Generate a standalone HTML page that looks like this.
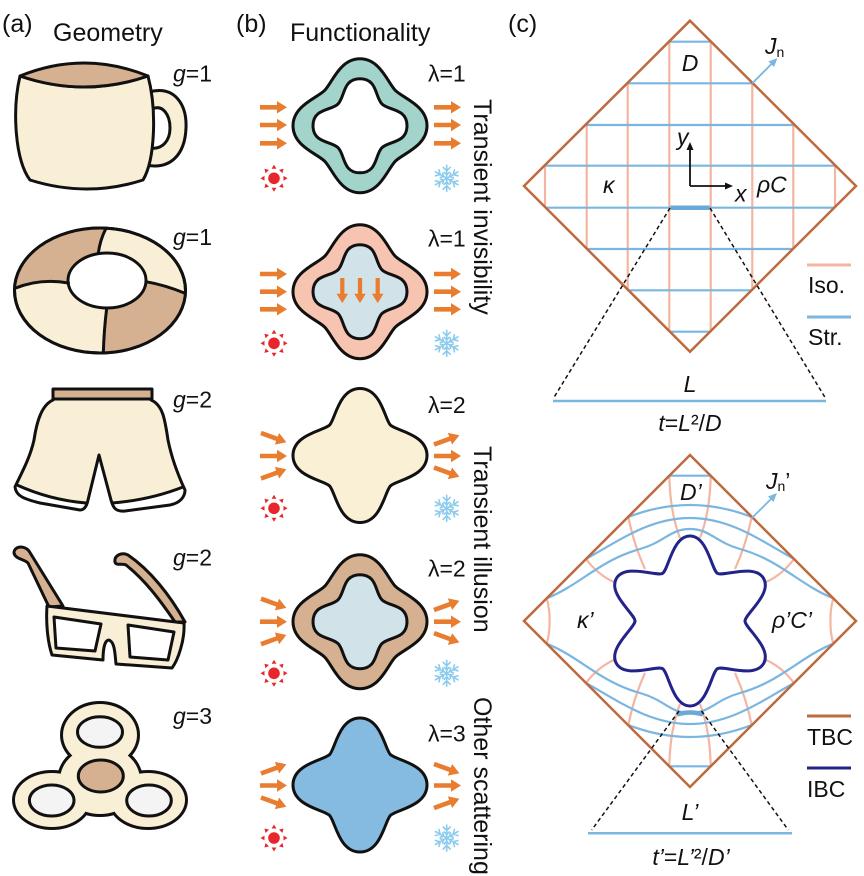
<!DOCTYPE html>
<html><head><meta charset="utf-8"><style>
html,body{margin:0;padding:0;background:#fff;}
svg{display:block;}
text{font-family:"Liberation Sans",Arial,sans-serif;fill:#111;}
</style></head><body>
<svg width="864" height="876" viewBox="0 0 864 876" xmlns="http://www.w3.org/2000/svg">
<defs>
<path id="arr" d="M0,-2.3 L17,-2.3 L17,-6.2 L27,0 L17,6.2 L17,2.3 L0,2.3 Z" fill="#e87d2f"/>
<g id="sun">
 <circle r="5.8" fill="#e8252a"/>
 <g fill="#e8252a">
  <path d="M-2.4,-9.5 L2.4,-9.5 L0,-13.5 Z"/>
  <path d="M-2.4,-9.5 L2.4,-9.5 L0,-13.5 Z" transform="rotate(45)"/>
  <path d="M-2.4,-9.5 L2.4,-9.5 L0,-13.5 Z" transform="rotate(90)"/>
  <path d="M-2.4,-9.5 L2.4,-9.5 L0,-13.5 Z" transform="rotate(135)"/>
  <path d="M-2.4,-9.5 L2.4,-9.5 L0,-13.5 Z" transform="rotate(180)"/>
  <path d="M-2.4,-9.5 L2.4,-9.5 L0,-13.5 Z" transform="rotate(225)"/>
  <path d="M-2.4,-9.5 L2.4,-9.5 L0,-13.5 Z" transform="rotate(270)"/>
  <path d="M-2.4,-9.5 L2.4,-9.5 L0,-13.5 Z" transform="rotate(315)"/>
 </g>
</g>
<g id="arm"><path d="M0,0 L13,0 M7.5,0 L11,-3.5 M7.5,0 L11,3.5 M3.5,0 L6,-2.5 M3.5,0 L6,2.5"/></g>
<g id="snow" stroke="#8ccbee" stroke-width="1.6" fill="none" stroke-linecap="round">
 <use href="#arm" transform="rotate(90)"/>
 <use href="#arm" transform="rotate(30)"/>
 <use href="#arm" transform="rotate(150)"/>
 <use href="#arm" transform="rotate(210)"/>
 <use href="#arm" transform="rotate(270)"/>
 <use href="#arm" transform="rotate(330)"/>
</g>
<path id="shA" d="M67,0 C67,20.2 43.01,27.71 35.36,35.36 C27.71,43.01 20.2,67 0,67 C-20.2,67 -27.71,43.01 -35.36,35.36 C-43.01,27.71 -67,20.2 -67,0 C-67,-20.2 -43.01,-27.71 -35.36,-35.36 C-27.71,-43.01 -20.2,-67 0,-67 C20.2,-67 27.71,-43.01 35.36,-35.36 C43.01,-27.71 67,-20.2 67,0 Z"/>
<path id="shB" d="M47,0 C47,17.56 28.92,14.92 21.92,21.92 C14.92,28.92 17.56,47 0,47 C-17.56,47 -14.92,28.92 -21.92,21.92 C-28.92,14.92 -47,17.56 -47,0 C-47,-17.56 -28.92,-14.92 -21.92,-21.92 C-14.92,-28.92 -17.56,-47 0,-47 C17.56,-47 14.92,-28.92 21.92,-21.92 C28.92,-14.92 47,-17.56 47,0 Z"/>
<path id="shC" d="M67,0 C67,21.2 36,24.82 30.41,30.41 C24.82,36 21.2,67 0,67 C-21.2,67 -24.82,36 -30.41,30.41 C-36,24.82 -67,21.2 -67,0 C-67,-21.2 -36,-24.82 -30.41,-30.41 C-24.82,-36 -21.2,-67 0,-67 C21.2,-67 24.82,-36 30.41,-30.41 C36,-24.82 67,-21.2 67,0 Z"/>
<path id="starpiece" d="M55,0 C55,-6.9 82.41,-27.26 73.61,-42.5 C64.82,-57.74 33.48,-44.18 27.5,-47.63"/>
<clipPath id="cd1"><polygon points="690,20.7 856,186 690,351.7 524,186"/></clipPath>
<g id="halfdeco" fill="none" stroke-width="2.2">
 <g stroke="#f4b6a0">
  <path d="M669.3,475.7 Q670,512 680,538"/>
  <path d="M710.7,475.7 Q710,512 700,538"/>
  <path d="M628.3,517 Q634,545 645,569"/>
  <path d="M751.7,517 Q746,545 735,569"/>
  <path d="M586,559 Q598,575 614,582"/>
  <path d="M794,559 Q782,575 766,582"/>
  <path d="M546.7,598.3 Q550,610 549.5,621"/>
  <path d="M833.3,598.3 Q830,610 830.5,621"/>
 </g>
 <g stroke="#7ab6e0">
  <path d="M669.3,475.7 L710.7,475.7"/>
  <path d="M628.3,517 Q690,493 751.7,517"/>
  <path d="M586,559 C620,540 650,518 690,518 C730,518 760,540 794,559"/>
  <path d="M546.7,598.3 C580,585 600,560 640,549 C665,542 670,529 690,529 C710,529 715,542 740,549 C780,560 800,585 833.3,598.3"/>
 </g>
</g>
</defs>

<!-- ===== Headers ===== -->
<text x="2" y="32" font-size="25">(a)</text>
<text x="53" y="41" font-size="25">Geometry</text>
<text x="236" y="32" font-size="25">(b)</text>
<text x="290" y="41" font-size="25">Functionality</text>
<text x="508" y="32" font-size="25">(c)</text>

<!-- ===== Panel (a) ===== -->
<g stroke="#111" stroke-width="3" stroke-linejoin="round" stroke-linecap="round">
 <!-- cup -->
 <path d="M149,92 C175,85 187,105 186,128 C185,155 170,170 146,165 L150,148 C163,150 170,140 170,128 C170,115 163,104 152,109 Z" fill="#f9efd6"/>
 <path d="M20,76 C12,110 15,160 30,180 Q87,198 143,180 C155,160 157,110 148,76 Q84,98 20,76 Z" fill="#f9efd6"/>
 <path d="M20,76 Q84,50 148,76 Q84,98 20,76 Z" fill="#d5b192"/>
 <!-- ring -->
 <ellipse cx="100" cy="290.5" rx="85.5" ry="62.5" fill="#f9efd6"/>
 <path d="M106,228.3 A85.5,62.5 0 0,0 15,288.3 Q40,278 68.5,283 A39,27.5 0 0,1 98.3,253.3 Q100,240 106,228.3 Z" fill="#d5b192" stroke="none"/>
 <path d="M185,293.3 A85.5,62.5 0 0,1 103.3,353 Q104,330 106.7,308 A39,27.5 0 0,0 146,281.7 Q165,285 185,293.3 Z" fill="#d5b192" stroke="none"/>
 <ellipse cx="100" cy="290.5" rx="85.5" ry="62.5" fill="none"/>
 <ellipse cx="107" cy="280.5" rx="39" ry="27.5" fill="#fff"/>
 <path d="M106,228.3 Q100,240 98.3,253.3 M15,288.3 Q40,278 68.5,283 M146,281.7 Q165,285 185,293.3 M106.7,308 Q104,330 103.3,353" fill="none"/>
 <!-- shorts -->
 <path d="M53,400 C42,405 37,420 34,440 C30,458 22,472 15,487 C16,496 24,499 40,503 L80,510 C85,510 87,505 88,500 L99,455 L111,500 C113,507 115,512 125,511 L170,505 C180,503 185,497 185,490 C178,475 172,460 168,440 C165,420 163,405 151,400 Z" fill="#f9efd6" stroke="none"/>
 <path d="M16,486 Q50,500 85,503 L80,510 L40,503 C24,499 16,496 16,486 Z" fill="#fff" stroke="none"/>
 <path d="M113,503 Q150,500 184,487 C185,497 180,503 170,505 L125,511 C118,511 114,508 113,503 Z" fill="#fff" stroke="none"/>
 <path d="M53,400 C42,405 37,420 34,440 C30,458 22,472 15,487 C16,496 24,499 40,503 L80,510 C85,510 87,505 88,500 L99,455 L111,500 C113,507 115,512 125,511 L170,505 C180,503 185,497 185,490 C178,475 172,460 168,440 C165,420 163,405 151,400" fill="none"/>
 <path d="M17,485 Q50,500 86,503 M112,503 Q150,500 183,487" fill="none"/>
 <rect x="53" y="389" width="99" height="10" fill="#d5b192"/>
 <!-- glasses -->
 <path d="M14,553 C14,546 24,545 29,551 L63,606 L49,607 L28,563 C24,559 15,559 14,553 Z" fill="#d5b192"/>
 <path d="M115,562 C114,555 122,552 128,555 C150,570 170,595 185,622 L175,622 C160,600 145,580 126,565 C122,563 116,566 115,562 Z" fill="#d5b192"/>
 <path d="M47,606 L184,623 C185,640 178,660 172,668 L116,664 C115,655 115,642 109,640 C104,640 103,652 103,660 L52,655 C47,640 46,620 47,606 Z" fill="#f9efd6"/>
 <path d="M54,617 L101,624 L95,651 L56,648 Z" fill="#fff"/>
 <path d="M128,625 L174,632 L168,660 L130,657 Z" fill="#fff"/>
 <!-- spinner -->
 <g stroke-width="6">
  <ellipse cx="100" cy="735" rx="37" ry="31"/>
  <ellipse cx="52" cy="800" rx="37" ry="27"/>
  <ellipse cx="148" cy="800" rx="37" ry="27"/>
  <ellipse cx="100" cy="780" rx="40" ry="34"/>
 </g>
 <g fill="#f9efd6" stroke="none">
  <ellipse cx="100" cy="735" rx="37" ry="31"/>
  <ellipse cx="52" cy="800" rx="37" ry="27"/>
  <ellipse cx="148" cy="800" rx="37" ry="27"/>
  <ellipse cx="100" cy="780" rx="40" ry="34"/>
 </g>
 <ellipse cx="100" cy="732" rx="22.5" ry="15.3" fill="#f4f4f4"/>
 <ellipse cx="51.7" cy="800.5" rx="22.3" ry="15.5" fill="#f4f4f4"/>
 <ellipse cx="149" cy="800.5" rx="22.3" ry="15.5" fill="#f4f4f4"/>
 <ellipse cx="100.8" cy="776" rx="22.5" ry="16" fill="#d5b192"/>
</g>
<g font-size="23">
 <text x="173" y="81.5"><tspan font-style="italic">g</tspan>=1</text>
 <text x="173" y="245"><tspan font-style="italic">g</tspan>=1</text>
 <text x="173" y="407.5"><tspan font-style="italic">g</tspan>=2</text>
 <text x="173" y="565.5"><tspan font-style="italic">g</tspan>=2</text>
 <text x="173" y="724"><tspan font-style="italic">g</tspan>=3</text>
</g>

<!-- ===== Panel (b) ===== -->
<g stroke="#111" stroke-width="3" stroke-linejoin="round">
 <use href="#shA" transform="translate(360,125.8)" fill="#a3d4cb"/>
 <use href="#shB" transform="translate(360,125.8)" fill="#fff"/>
 <use href="#shA" transform="translate(360,291.7)" fill="#f6c4b0"/>
 <use href="#shB" transform="translate(360,291.7)" fill="#d2e2e9"/>
 <use href="#shC" transform="translate(360,455.5)" fill="#faf0d5"/>
 <use href="#shA" transform="translate(360,621.7)" fill="#d5b191"/>
 <use href="#shB" transform="translate(360,621.7)" fill="#d2e2e9"/>
 <use href="#shC" transform="translate(360,785)" fill="#86bbe1"/>
</g>
<!-- arrows -->
<g>
 <use href="#arr" transform="translate(260,107.3)"/>
 <use href="#arr" transform="translate(260,125)"/>
 <use href="#arr" transform="translate(260,143.3)"/>
 <use href="#arr" transform="translate(434,107.3)"/>
 <use href="#arr" transform="translate(434,125)"/>
 <use href="#arr" transform="translate(434,143.3)"/>

 <use href="#arr" transform="translate(260,274)"/>
 <use href="#arr" transform="translate(260,291.7)"/>
 <use href="#arr" transform="translate(260,309.3)"/>
 <use href="#arr" transform="translate(434,274)"/>
 <use href="#arr" transform="translate(434,291.7)"/>
 <use href="#arr" transform="translate(434,309.3)"/>
 <use href="#arr" transform="translate(342.3,278) rotate(90) scale(0.93)"/>
 <use href="#arr" transform="translate(360,278) rotate(90) scale(0.93)"/>
 <use href="#arr" transform="translate(377.7,278) rotate(90) scale(0.93)"/>

 <use href="#arr" transform="translate(261,433) rotate(20)"/>
 <use href="#arr" transform="translate(260,456)"/>
 <use href="#arr" transform="translate(261,478.5) rotate(-20)"/>
 <use href="#arr" transform="translate(434,444.5) rotate(-20)"/>
 <use href="#arr" transform="translate(434,456)"/>
 <use href="#arr" transform="translate(434,467.5) rotate(20)"/>

 <use href="#arr" transform="translate(261,598.7) rotate(20)"/>
 <use href="#arr" transform="translate(260,621.7)"/>
 <use href="#arr" transform="translate(261,644.2) rotate(-20)"/>
 <use href="#arr" transform="translate(434,610) rotate(-20)"/>
 <use href="#arr" transform="translate(434,621.7)"/>
 <use href="#arr" transform="translate(434,633.2) rotate(20)"/>

 <use href="#arr" transform="translate(261,773.5) rotate(-20)"/>
 <use href="#arr" transform="translate(260,785.5)"/>
 <use href="#arr" transform="translate(261,797.5) rotate(20)"/>
 <use href="#arr" transform="translate(434,764) rotate(20)"/>
 <use href="#arr" transform="translate(434,785.5)"/>
 <use href="#arr" transform="translate(434,808) rotate(-20)"/>
</g>
<use href="#sun" transform="translate(274,178.3)"/>
<use href="#sun" transform="translate(274,343.3)"/>
<use href="#sun" transform="translate(274,508.3)"/>
<use href="#sun" transform="translate(274,673.3)"/>
<use href="#sun" transform="translate(274,838)"/>
<use href="#snow" transform="translate(446.7,178.3)"/>
<use href="#snow" transform="translate(446.7,343.3)"/>
<use href="#snow" transform="translate(446.7,508.3)"/>
<use href="#snow" transform="translate(446.7,673.3)"/>
<use href="#snow" transform="translate(446.7,838)"/>
<g font-size="23">
 <text x="428" y="81.5">λ=1</text>
 <text x="428" y="246.5">λ=1</text>
 <text x="428" y="413">λ=2</text>
 <text x="428" y="576.5">λ=2</text>
 <text x="428" y="741.5">λ=3</text>
</g>
<g font-size="25">
 <text transform="translate(474,99) rotate(90)">Transient invisibility</text>
 <text transform="translate(474,446) rotate(90)">Transient illusion</text>
 <text transform="translate(474,697) rotate(90)">Other scattering</text>
</g>

<!-- ===== Panel (c) top ===== -->
<g clip-path="url(#cd1)" fill="none" stroke-width="2.2">
 <g stroke="#f4b6a0">
  <path d="M545,0V400 M586.7,0V400 M627.7,0V400 M669.3,0V400 M710.7,0V400 M752.3,0V400 M793.3,0V400 M835,0V400"/>
 </g>
 <g stroke="#7ab6e0">
  <path d="M500,41.7H880 M500,83.3H880 M500,125H880 M500,165.7H880 M500,207.7H880 M500,249H880 M500,290.3H880 M500,331.7H880"/>
 </g>
</g>
<polygon points="690,20.7 856,186 690,351.7 524,186" fill="none" stroke="#bd6a3f" stroke-width="2.5"/>
<path d="M670.5,207.7 H709.5" stroke="#6aa9d6" stroke-width="4.5"/>
<path d="M670,208 L553,399 M710,208 L826,399" stroke="#111" stroke-width="1.5" stroke-dasharray="4,3" fill="none"/>
<path d="M553,401 H826" stroke="#7ab6e0" stroke-width="2.5"/>
<!-- axes -->
<path d="M690,186 V148 M690,186 H727" stroke="#111" stroke-width="1.8" fill="none"/>
<path d="M690,142 L686.5,150 L693.5,150 Z M733,186 L725,182.5 L725,189.5 Z" fill="#111"/>
<!-- Jn arrow -->
<path d="M752.3,83.3 L772,63.5" stroke="#7ab6e0" stroke-width="1.8"/>
<path d="M777.5,58 L768.5,61.5 L774,67 Z" fill="#7ab6e0"/>
<g font-size="23">
 <text x="690" y="71" text-anchor="middle" font-style="italic">D</text>
 <text x="765" y="54" font-style="italic">J<tspan font-size="14" font-style="normal" dy="3">n</tspan></text>
 <text x="677" y="145" font-style="italic">y</text>
 <text x="735" y="201.5" font-style="italic">x</text>
 <text x="603" y="193" font-style="italic">κ</text>
 <text x="757" y="192.7" font-style="italic">ρC</text>
 <text x="690" y="392" text-anchor="middle" font-style="italic">L</text>
 <text x="690" y="431" text-anchor="middle"><tspan font-style="italic">t</tspan>=<tspan font-style="italic">L</tspan>²/<tspan font-style="italic">D</tspan></text>
 <text x="808" y="293">Iso.</text>
 <text x="808" y="345">Str.</text>
</g>
<path d="M807,265 H851" stroke="#f4b6a0" stroke-width="3"/>
<path d="M807,317 H851" stroke="#7ab6e0" stroke-width="3"/>

<!-- ===== Panel (c) bottom ===== -->
<use href="#halfdeco"/>
<use href="#halfdeco" transform="matrix(1,0,0,-1,0,1242)"/>
<path d="M677,714.5 Q690,710.5 703,714.5" stroke="#6aa9d6" stroke-width="4.5" fill="none"/>
<polygon points="690,455 856,621 690,787 524,621" fill="none" stroke="#bd6a3f" stroke-width="2.5"/>
<g transform="translate(690,621)" fill="none" stroke="#23238a" stroke-width="3" stroke-linecap="round">
 <use href="#starpiece"/>
 <use href="#starpiece" transform="rotate(60)"/>
 <use href="#starpiece" transform="rotate(120)"/>
 <use href="#starpiece" transform="rotate(180)"/>
 <use href="#starpiece" transform="rotate(240)"/>
 <use href="#starpiece" transform="rotate(300)"/>
</g>
<path d="M679,711 L591.7,830 M701.5,711 L788.3,830" stroke="#111" stroke-width="1.5" stroke-dasharray="4,3" fill="none"/>
<path d="M588,833.3 H792" stroke="#7ab6e0" stroke-width="2.5"/>
<path d="M751.7,518.3 L771.5,498.5" stroke="#7ab6e0" stroke-width="1.8"/>
<path d="M777,493 L768,496.5 L773.5,502 Z" fill="#7ab6e0"/>
<g font-size="23">
 <text x="680" y="500" font-style="italic">D’</text>
 <text x="766" y="489" font-style="italic">J<tspan font-size="14" font-style="normal" dy="2">n</tspan><tspan dy="-2" font-style="normal">’</tspan></text>
 <text x="577" y="628" font-style="italic">κ’</text>
 <text x="772" y="628" font-style="italic">ρ’C’</text>
 <text x="690" y="820" text-anchor="middle" font-style="italic">L’</text>
 <text x="691" y="865" text-anchor="middle"><tspan font-style="italic">t’</tspan>=<tspan font-style="italic">L’</tspan>²/<tspan font-style="italic">D’</tspan></text>
 <text x="807" y="745">TBC</text>
 <text x="807" y="797">IBC</text>
</g>
<path d="M807,716 H851" stroke="#bd6a3f" stroke-width="3"/>
<path d="M807,768 H851" stroke="#23238a" stroke-width="3"/>
</svg>
</body></html>
